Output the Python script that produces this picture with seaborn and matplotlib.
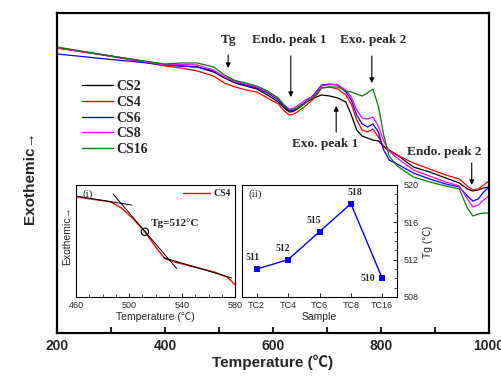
import numpy as np
import pandas as pd
import matplotlib
matplotlib.use("Agg")
import matplotlib.pyplot as plt
import seaborn as sns
from matplotlib.ticker import MultipleLocator, FixedLocator

# ---------------- data ----------------
temps = [200, 250, 300, 350, 400, 430, 460, 490, 510, 530, 550, 570, 590, 610, 620, 630, 637, 645,
         660, 675, 690, 705, 720, 735, 745, 755, 765, 775, 785, 795, 805, 815, 830, 860,
         890, 920, 945, 960, 970, 980, 990, 1000]
cs2 = [285, 281, 277, 272.5, 268, 267, 266, 261, 255, 250, 247, 244, 238, 231, 225.5, 221, 221.5, 224,
       230, 235, 238, 237, 235, 231, 218, 203, 197, 195, 193, 192, 187, 183, 178, 166,
       161, 155, 150, 144, 142, 143, 145, 146]
cs4 = [285, 281, 276.5, 272, 267, 265, 262, 257, 250, 246, 243, 241, 235, 229, 222.5, 218, 218.5, 221,
       227, 234, 245, 246, 244, 238, 229, 213, 203, 201, 204, 196, 186, 182, 178, 170,
       164, 158, 154, 147, 143, 144, 148, 152]
cs6 = [279, 276.3, 273.5, 271, 268, 267, 266, 262, 256, 251, 248, 245, 240, 233, 227, 222, 222.5, 225,
       231, 238, 248, 249, 248, 241, 233, 218, 209, 206, 209, 201, 183, 173, 169, 160,
       154, 149, 146, 137, 132, 134, 141, 146]
cs8 = [285.5, 281, 277, 272.5, 268, 268.5, 268, 263, 256, 251.5, 249, 246, 241, 234, 228.5, 224, 224.5, 227,
       233, 237, 247, 248.5, 248, 243, 236, 223, 215, 214, 216, 207, 192, 182, 175, 163,
       157, 151, 147, 134, 126, 128, 133, 137]
cs16 = [286, 281.5, 277, 273, 269, 270, 270, 266, 258, 252.5, 250, 247, 242, 235, 228, 223, 223.5, 225,
        230, 236, 245, 246, 246, 242, 241, 239, 237, 240, 244, 227, 198, 177, 167, 156,
        151, 147, 144, 125, 117, 119, 120, 120]
series_names = ["CS2", "CS4", "CS6", "CS8", "CS16"]
series_colors = ["#000000", "#FF0000", "#0000FF", "#FF00FF", "#008000"]

# inset (i): CS4 glass transition detail
inset_T = [460, 473, 486, 494, 503, 512, 521, 527, 534, 549, 564, 574, 580]
inset_cs4 = [300, 292, 285, 267, 235, 195, 145, 115, 105, 90, 75, 60, 37]
tangent_upper_T = [460, 502]
tangent_upper_y = [302, 275]
tangent_mid_T = [488, 536]
tangent_mid_y = [308, 85]
tangent_lower_T = [526, 577.5]
tangent_lower_y = [118, 57]
tg_point_T = [512]
tg_point_y = [195]
inset_ticks = [460, 500, 540, 580]

# inset (ii): Tg per sample
samples = ["TC2", "TC4", "TC6", "TC8", "TC16"]
tg_values = [511, 512, 515, 518, 510]

# ---------------- style ----------------
sns.set_theme(style="white")
plt.rcParams['font.family'] = ['Liberation Sans', 'Noto Sans CJK SC', 'DejaVu Sans']
SERIF = ['Liberation Serif', 'DejaVu Serif']
SANS = ['Liberation Sans', 'Noto Sans CJK SC', 'DejaVu Sans']

W, H = 502, 380
fig = plt.figure(figsize=(W / 100, H / 100), dpi=100)
fig.patch.set_facecolor("white")

def rect(l, t, r, b):
    return [l / W, 1 - b / H, (r - l) / W, (b - t) / H]

# ---------------- main axes ----------------
ax = fig.add_axes(rect(57, 13, 489, 333))
rows = []
for name, vals in zip(series_names, [cs2, cs4, cs6, cs8, cs16]):
    for t, v in zip(temps, vals):
        rows.append({"T": t, "signal": v, "sample": name})
df = pd.DataFrame(rows)
sns.lineplot(data=df, x="T", y="signal", hue="sample", hue_order=series_names,
             palette=dict(zip(series_names, series_colors)), sort=False,
             estimator=None, lw=0.9, ax=ax)
ax.set_xlim(200, 1000)
ax.set_ylim(0, 320)
ax.set_xlabel("")
ax.set_ylabel("")
ax.set_yticks([])
ax.xaxis.set_major_locator(MultipleLocator(200))
ax.xaxis.set_minor_locator(MultipleLocator(100))
ax.tick_params(axis="x", which="both", direction="in", length=4, width=1.5,
               bottom=True, top=False, pad=4)
for lab in ax.get_xticklabels():
    lab.set_fontweight("bold")
    lab.set_fontsize(10)
for s in ax.spines.values():
    s.set_linewidth(1.6)
    s.set_color("black")

ax.text(0.5, -0.092, "Temperature (℃)", transform=ax.transAxes, ha="center", va="center",
        fontsize=11, fontweight="bold", family=SANS)
ax.text(-0.0625, 0.484, "Exothemic→", transform=ax.transAxes, ha="center", va="center",
        rotation=90, fontsize=11, fontweight="bold", family=SANS)

handles, labels = ax.get_legend_handles_labels()
leg = ax.legend(handles, labels, loc="upper left", bbox_to_anchor=(82 / W, 1 - 80 / H),
                bbox_transform=fig.transFigure, frameon=False, borderpad=0, borderaxespad=0,
                handlelength=2.2, handletextpad=0.25, labelspacing=0.2,
                prop={"family": SERIF, "weight": "bold", "size": 10})
for lh in leg.get_lines():
    lh.set_linewidth(1.0)

def arrow(x, y0, y1):
    ax.annotate("", xy=(x, y1), xytext=(x, y0),
                arrowprops=dict(arrowstyle="-|>", lw=0.8, color="black", mutation_scale=7,
                                shrinkA=0, shrinkB=0))

afont = dict(family=SERIF, fontweight="bold", fontsize=9.5, ha="center", va="center")
ax.text(517, 293, "Tg", **afont)
arrow(517, 278, 265)
ax.text(631, 293, "Endo. peak 1", **afont)
arrow(633, 277, 236)
ax.text(785, 293, "Exo. peak 2", **afont)
arrow(783, 277, 250)
ax.text(696, 189, "Exo. peak 1", **afont)
arrow(717, 201, 227)
ax.text(918, 181, "Endo. peak 2", **afont)
arrow(968, 170, 148)

# ---------------- inset (i) ----------------
a1 = fig.add_axes(rect(76, 185, 235, 297))
a1.set_facecolor("white")
ins_df = pd.DataFrame({"T": inset_T, "signal": inset_cs4})
sns.lineplot(data=ins_df, x="T", y="signal", color="#FF0000", lw=1.0, sort=False,
             estimator=None, ax=a1, label="CS4")
for tx, ty in [(tangent_upper_T, tangent_upper_y), (tangent_mid_T, tangent_mid_y),
               (tangent_lower_T, tangent_lower_y)]:
    sns.lineplot(x=tx, y=ty, color="black", lw=0.7, sort=False, estimator=None, ax=a1)
sns.scatterplot(x=tg_point_T, y=tg_point_y, marker="o", s=28, facecolor="none",
                edgecolor="black", linewidth=0.8, ax=a1, zorder=5)
a1.set_xlim(460, 580)
a1.set_ylim(0, 335)
a1.set_yticks([])
a1.set_xlabel("")
a1.set_ylabel("")
a1.xaxis.set_major_locator(FixedLocator(inset_ticks))
a1.xaxis.set_minor_locator(MultipleLocator(10))
a1.tick_params(axis="x", which="major", direction="in", length=3, width=0.7,
               labelsize=6.5, pad=3, bottom=True, top=False)
a1.tick_params(axis="x", which="minor", direction="in", length=2, width=0.6,
               bottom=True, top=False)
for s in a1.spines.values():
    s.set_linewidth(0.8)
    s.set_color("black")
a1.text(0.5, -0.18, "Temperature (℃)", transform=a1.transAxes, ha="center", va="center",
        fontsize=7.5, family=SANS)
a1.text(-0.057, 0.55, "Exothemic→", transform=a1.transAxes, ha="center", va="center",
        rotation=90, fontsize=7.5, family=SANS)
a1.text(0.075, 0.92, "(i)", transform=a1.transAxes, ha="center", va="center",
        fontsize=8, family=SERIF)
a1.text(0.47, 0.66, "Tg=512°C", transform=a1.transAxes, ha="left", va="center",
        fontsize=8, fontweight="bold", family=SERIF)
h1, l1 = a1.get_legend_handles_labels()
a1.legend(h1[:1], l1[:1], loc="upper right", frameon=False, borderpad=0.3,
          borderaxespad=0.15, handlelength=2.8, handletextpad=0.3,
          prop={"family": SERIF, "weight": "bold", "size": 7})

# ---------------- inset (ii) ----------------
a2 = fig.add_axes(rect(242, 185, 397, 297))
a2.set_facecolor("white")
xpos = list(range(len(samples)))
sns.lineplot(x=xpos, y=tg_values, color="#0000FF", lw=1.0, marker="s", markersize=5,
             markeredgewidth=0, sort=False, estimator=None, ax=a2)
a2.set_xlim(-0.47, 4.47)
a2.set_ylim(508, 520)
a2.set_xticks(xpos)
a2.set_xticklabels(samples)
a2.set_xlabel("")
a2.set_ylabel("")
a2.yaxis.tick_right()
a2.yaxis.set_major_locator(MultipleLocator(4))
a2.yaxis.set_minor_locator(MultipleLocator(1))
a2.tick_params(axis="x", which="major", direction="in", length=3, width=0.7,
               labelsize=6.5, pad=3, bottom=True, top=False)
a2.tick_params(axis="y", which="major", direction="in", length=3, width=0.7,
               labelsize=6.5, pad=5, right=True, left=False)
a2.tick_params(axis="y", which="minor", direction="in", length=2, width=0.6,
               right=True, left=False)
for s in a2.spines.values():
    s.set_linewidth(0.8)
    s.set_color("black")
a2.text(0.5, -0.18, "Sample", transform=a2.transAxes, ha="center", va="center",
        fontsize=7.5, family=SANS)
a2.text(1.2, 0.49, "Tg (℃)", transform=a2.transAxes, ha="center", va="center",
        rotation=90, fontsize=7.5, family=SANS)
a2.text(0.085, 0.92, "(ii)", transform=a2.transAxes, ha="center", va="center",
        fontsize=8, family=SERIF)
offsets = [(-3, 8, "center"), (-4, 8, "center"), (-4, 8, "center"), (3, 8, "center"),
           (-5, 0, "right")]
for x, v, (dx, dy, ha) in zip(xpos, tg_values, offsets):
    a2.annotate(str(v), xy=(x, v), xytext=(dx, dy), textcoords="offset points",
                ha=ha, va="center", fontsize=7, fontweight="bold", family=SERIF)

fig.savefig("out.png", dpi=100, facecolor="white")
